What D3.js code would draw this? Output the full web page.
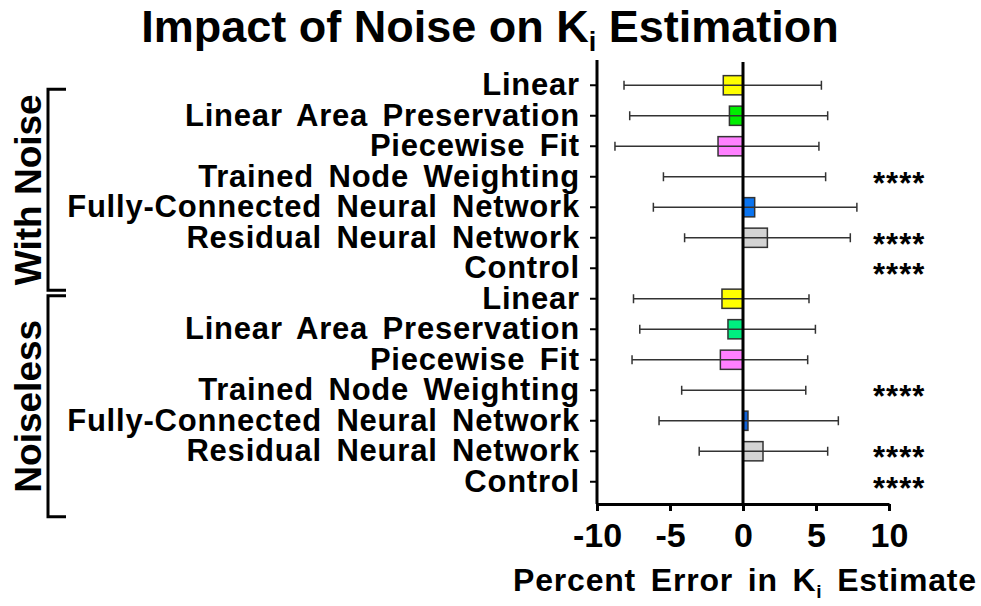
<!DOCTYPE html>
<html>
<head>
<meta charset="utf-8">
<script src="https://cdn.jsdelivr.net/npm/d3@7"></script>
<style>
  html, body { margin: 0; padding: 0; background: #fff; }
  svg { display: block; font-family: "Liberation Sans", Arial, Helvetica, sans-serif; font-weight: bold; }
</style>
</head>
<body>
<svg id="chart" width="981" height="606"></svg>
<script>
// ---- data ----
const categories = ["Linear", "Linear Area Preservation", "Piecewise Fit", "Trained Node Weighting",
  "Fully-Connected Neural Network", "Residual Neural Network", "Control"];
const groups = ["With Noise", "Noiseless"];
const noiseMean = [-1.35, -0.93, -1.71, 0, 0.8, 1.67, 0];
const noiseLow = [-8.15, -7.76, -8.77, -5.45, -6.14, -4.0, null];
const noiseHigh = [5.37, 5.8, 5.2, 5.66, 7.8, 7.35, null];
const noiselessMean = [-1.44, -1.03, -1.55, 0, 0.34, 1.37, 0];
const noiselessLow = [-7.5, -7.07, -7.6, -4.2, -5.75, -3.0, null];
const noiselessHigh = [4.52, 4.96, 4.43, 4.3, 6.53, 5.8, null];
const significance = ["", "", "", "****", "", "****", "****"];
const noiseColors = ["#ffff00", "#00ee00", "#ff80ff", "#ffffff", "#0a74f0", "#d3d3d3", "#ffffff"];
const noiselessColors = ["#ffff00", "#00ee80", "#ff80ff", "#ffffff", "#1062d8", "#d3d3d3", "#ffffff"];
const xTicks = [-10, -5, 0, 5, 10];

// ---- build rows ----
const rows = [];
groups.forEach((g, gi) => {
  const mean = gi === 0 ? noiseMean : noiselessMean;
  const lo = gi === 0 ? noiseLow : noiselessLow;
  const hi = gi === 0 ? noiseHigh : noiselessHigh;
  const cols = gi === 0 ? noiseColors : noiselessColors;
  categories.forEach((c, ci) => {
    rows.push({ key: g + "|" + c, group: g, label: c, mean: mean[ci], lo: lo[ci], hi: hi[ci],
      color: cols[ci], sig: significance[ci] });
  });
});

const svg = d3.select("#chart");
const x = d3.scaleLinear().domain([-10, 10]).range([597, 889]);
const y = d3.scaleBand().domain(rows.map(r => r.key)).range([70, 497]).paddingInner(0.37).paddingOuter(0.185);
const yc = k => y(k) + y.bandwidth() / 2;

// title
const title = svg.append("text").attr("x", 490).attr("y", 42).attr("text-anchor", "middle")
  .style("font-size", "45px");
title.append("tspan").text("Impact of Noise on K");
title.append("tspan").text("i").style("font-size", "27px").attr("dy", 9);
title.append("tspan").text(" Estimation").attr("dy", -9);

// bars
const plot = svg.append("g");
plot.selectAll("rect.bar").data(rows.filter(r => r.mean !== 0)).join("rect")
  .attr("class", "bar")
  .attr("x", d => x(Math.min(0, d.mean)))
  .attr("width", d => Math.abs(x(d.mean) - x(0)))
  .attr("y", d => y(d.key))
  .attr("height", y.bandwidth())
  .attr("fill", d => d.color)
  .attr("stroke", "#333").attr("stroke-width", 1.5);

// error bars
const eb = plot.selectAll("g.err").data(rows.filter(r => r.lo !== null)).join("g").attr("class", "err");
eb.append("line").attr("x1", d => x(d.lo)).attr("x2", d => x(d.hi))
  .attr("y1", d => yc(d.key)).attr("y2", d => yc(d.key))
  .attr("stroke", "#333").attr("stroke-width", 1.5);
eb.append("line").attr("x1", d => x(d.lo)).attr("x2", d => x(d.lo))
  .attr("y1", d => yc(d.key) - 4.5).attr("y2", d => yc(d.key) + 4.5)
  .attr("stroke", "#333").attr("stroke-width", 1.5);
eb.append("line").attr("x1", d => x(d.hi)).attr("x2", d => x(d.hi))
  .attr("y1", d => yc(d.key) - 4.5).attr("y2", d => yc(d.key) + 4.5)
  .attr("stroke", "#333").attr("stroke-width", 1.5);

// zero line
svg.append("line").attr("x1", x(0)).attr("x2", x(0)).attr("y1", 62).attr("y2", 504)
  .attr("stroke", "#000").attr("stroke-width", 3);

// y axis
const yAxis = svg.append("g").attr("transform", `translate(${x(-10)},0)`)
  .call(d3.axisLeft(y).tickSize(7).tickPadding(10).tickSizeOuter(0).tickFormat(k => k.split("|")[1]));
yAxis.select(".domain").attr("d", "M0,60V504").attr("stroke-width", 3);
yAxis.selectAll(".tick line").attr("stroke-width", 2);
yAxis.selectAll(".tick text").style("font-size", "31px").style("word-spacing", "5px")
  .style("letter-spacing", "0.8px").attr("fill", "#000");
yAxis.attr("font-family", null).attr("font-size", null);

// x axis
const xAxis = svg.append("g").attr("transform", "translate(0,504)")
  .call(d3.axisBottom(x).tickValues(xTicks).tickSize(7).tickPadding(12).tickSizeOuter(0)
    .tickFormat(d => String(d)));
xAxis.select(".domain").attr("stroke-width", 3);
xAxis.selectAll(".tick line").attr("stroke-width", 3);
xAxis.selectAll(".tick text").style("font-size", "34px").attr("fill", "#000");
xAxis.attr("font-family", null).attr("font-size", null);

// x label
const xl = svg.append("text").attr("x", 745).attr("y", 591).attr("text-anchor", "middle")
  .style("font-size", "32px").style("word-spacing", "5px").style("letter-spacing", "0.8px");
xl.append("tspan").text("Percent Error in K");
xl.append("tspan").text("i").style("font-size", "19px").attr("dy", 7);
xl.append("tspan").text(" Estimate").attr("dy", -7);

// significance stars
svg.selectAll("text.sig").data(rows.filter(r => r.sig)).join("text")
  .attr("class", "sig").attr("x", 873).attr("y", d => yc(d.key)).attr("dy", "0.55em")
  .style("font-size", "31px").style("letter-spacing", "1px").text(d => d.sig);

// group brackets
groups.forEach((g, gi) => {
  const gRows = rows.filter(r => r.group === g);
  const top = yc(gRows[0].key) + (gi === 0 ? 4 : -3);
  const bot = yc(gRows[gRows.length - 1].key) + (gi === 0 ? 22 : 35);
  svg.append("path").attr("d", `M66,${top}H48V${bot}H66`).attr("fill", "none")
    .attr("stroke", "#000").attr("stroke-width", 3);
  svg.append("text").attr("transform", `translate(28,${(top + bot) / 2}) rotate(-90)`)
    .attr("text-anchor", "middle").attr("dy", "0.36em").style("font-size", "37px").text(g);
});
</script>
</body>
</html>
